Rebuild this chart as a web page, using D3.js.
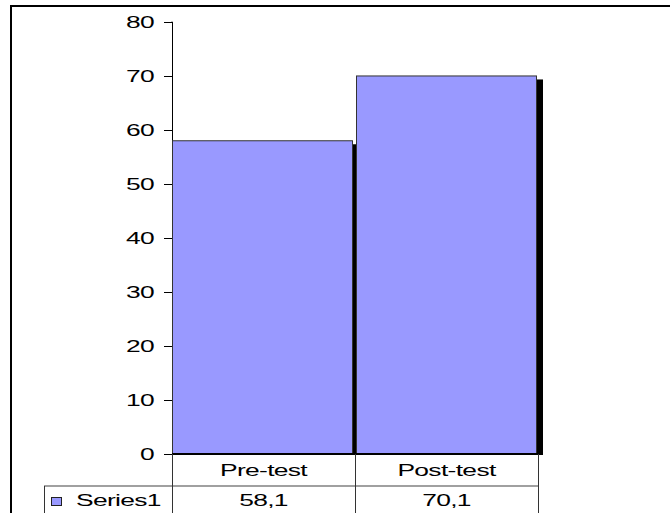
<!DOCTYPE html>
<html>
<head>
<meta charset="utf-8">
<script src="https://cdn.jsdelivr.net/npm/d3@7"></script>
<style>
  body { margin: 0; background: #fff; }
  text { font-family: "Liberation Sans", Arial, sans-serif; font-size: 16px; fill: #000; letter-spacing: -0.4px; }
</style>
</head>
<body>
<svg id="chart"></svg>
<script>
// chart data
const categories = ["Pre-test", "Post-test"];
const seriesName = "Series1";
const values = [58.1, 70.1];
const valueLabels = ["58,1", "70,1"];
const yTicks = [0, 10, 20, 30, 40, 50, 60, 70, 80];

const width = 670, height = 513;
const stretch = 1.65; // text in the picture is drawn wide
const shadow = { dx: 7, dy: 4 };

const svg = d3.select("#chart")
    .attr("width", width)
    .attr("height", height);

// outer frame (runs off the right and bottom edges)
svg.append("rect")
    .attr("x", 11).attr("y", 6)
    .attr("width", width + 20).attr("height", height + 20)
    .attr("fill", "none")
    .attr("stroke", "#000")
    .attr("stroke-width", 2);

const x = d3.scaleBand()
    .domain(categories)
    .range([172, 538])
    .padding(0);

const y = d3.scaleLinear()
    .domain([0, 80])
    .range([454, 22]);

const barW = x.bandwidth() - 3;

function wideText(g, tx, ty, str, anchor) {
    g.append("text")
        .attr("transform", `translate(${tx},${ty}) scale(${stretch},1)`)
        .attr("text-anchor", anchor)
        .text(str);
}

// y axis
const yAxis = svg.append("g")
    .attr("transform", `translate(${x.range()[0]},0)`)
    .call(d3.axisLeft(y).tickValues(yTicks).tickSize(8).tickFormat(""));
yAxis.select(".domain").attr("stroke", "#000").attr("d", `M-0.5,${y(80)}H0.5V${y(0)}`);
yAxis.selectAll(".tick line").attr("stroke", "#000");

const labels = svg.append("g");
yTicks.forEach(t => wideText(labels, 154, y(t) + 6, t, "end"));

// bars with drop shadow
const bars = svg.append("g");
categories.forEach((c, i) => {
    const bx = i === 0 ? x(c) : x(c) + 1;
    bars.append("rect")
        .attr("x", bx + shadow.dx)
        .attr("y", y(values[i]) + shadow.dy)
        .attr("width", barW)
        .attr("height", y(0) + 1 - y(values[i]) - shadow.dy)
        .attr("fill", "#000");
    bars.append("rect")
        .attr("x", bx + 0.5)
        .attr("y", y(values[i]) + 0.5)
        .attr("width", barW)
        .attr("height", y(0) - y(values[i]))
        .attr("fill", "#9999ff")
        .attr("stroke", "#333")
        .attr("stroke-width", 1);
});

// baseline
svg.append("line")
    .attr("x1", x.range()[0]).attr("x2", x.range()[1] + shadow.dx - 2)
    .attr("y1", y(0)).attr("y2", y(0))
    .attr("stroke", "#000").attr("stroke-width", 2);

// data table
const table = svg.append("g");
const rowTop = 486;
table.append("line")
    .attr("x1", 44).attr("x2", x.range()[1])
    .attr("y1", rowTop).attr("y2", rowTop)
    .attr("stroke", "#808080").attr("stroke-width", 1.5);
table.append("line")
    .attr("x1", 44.5).attr("x2", 44.5)
    .attr("y1", rowTop).attr("y2", height)
    .attr("stroke", "#333");
[...categories.map(c => x(c)), x.range()[1]].forEach(px => {
    table.append("line")
        .attr("x1", px + 0.5).attr("x2", px + 0.5)
        .attr("y1", y(0)).attr("y2", height)
        .attr("stroke", "#333");
});

categories.forEach((c, i) => {
    const cx = x(c) + x.bandwidth() / 2;
    wideText(table, cx, 476, c, "middle");
    wideText(table, cx, 506, valueLabels[i], "middle");
});

// legend key
table.append("rect")
    .attr("x", 51.5).attr("y", 497.5)
    .attr("width", 10).attr("height", 8)
    .attr("fill", "#9999ff")
    .attr("stroke", "#222");
wideText(table, 76, 506, seriesName, "start");
</script>
</body>
</html>
